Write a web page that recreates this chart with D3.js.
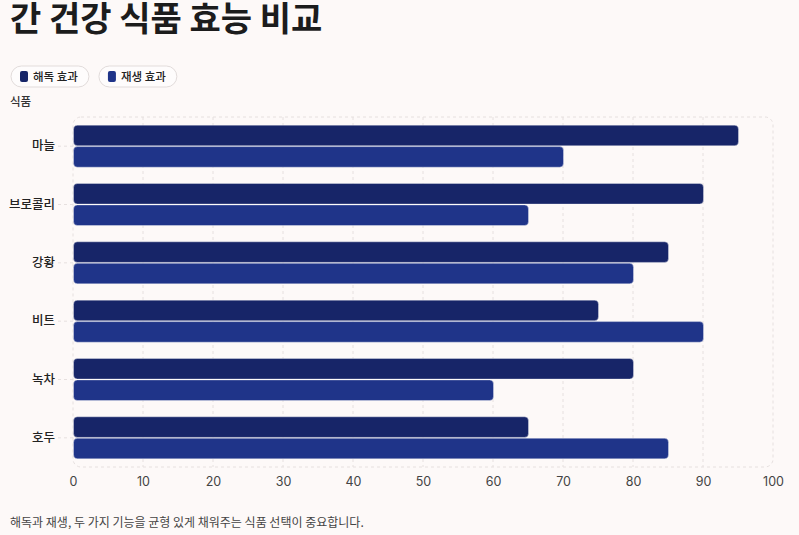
<!DOCTYPE html>
<html>
<head>
<meta charset="utf-8">
<script src="https://cdn.jsdelivr.net/npm/d3@7"></script>
<style>
  html, body { margin: 0; padding: 0; background: #fdf9f8; }
  body { width: 799px; height: 535px; overflow: hidden; font-family: "Noto Sans CJK KR", "Noto Sans", sans-serif; }
</style>
</head>
<body>
<svg id="svg" width="799" height="535"></svg>
<script>
var foods = ['마늘', '브로콜리', '강황', '비트', '녹차', '호두'];
var seriesNames = ['해독 효과', '재생 효과'];
var detoxValues = [95, 90, 85, 75, 80, 65];
var regenValues = [70, 65, 80, 90, 60, 85];
var xTicks = [0, 10, 20, 30, 40, 50, 60, 70, 80, 90, 100];
var colors = ['#172568', '#1f3489'];

var svg = d3.select('#svg');
var margin = { left: 73, right: 26, top: 117, bottom: 68 };
var width = 799 - margin.left - margin.right;
var height = 535 - margin.top - margin.bottom;

// title
svg.append('text')
    .attr('x', 10)
    .attr('y', 31)
    .attr('font-size', 34)
    .attr('font-weight', 700)
    .attr('fill', '#1c1c1c')
    .text('간 건강 식품 효능 비교');

// legend pills
var legend = svg.append('g').attr('transform', 'translate(11,66)');
var lx = 0;
seriesNames.forEach(function(name, i) {
    var g = legend.append('g').attr('transform', 'translate(' + lx + ',0)');
    var t = g.append('text')
        .attr('x', 22)
        .attr('y', 14.5)
        .attr('font-size', 11.5)
        .attr('font-weight', 500)
        .attr('fill', '#222')
        .text(name);
    var w = t.node().getComputedTextLength() + 33;
    g.insert('rect', 'text')
        .attr('x', 0).attr('y', 0)
        .attr('width', w).attr('height', 21)
        .attr('rx', 10.5)
        .attr('fill', '#fefcfc')
        .attr('stroke', '#e2dcdb');
    g.append('rect')
        .attr('x', 9).attr('y', 5)
        .attr('width', 8).attr('height', 11)
        .attr('rx', 2)
        .attr('fill', colors[i]);
    lx += w + 10;
});

// axis title
svg.append('text')
    .attr('x', 10)
    .attr('y', 106)
    .attr('font-size', 11.5)
    .attr('font-weight', 500)
    .attr('fill', '#333')
    .text('식품');

var chart = svg.append('g')
    .attr('transform', 'translate(' + margin.left + ',' + margin.top + ')');

var x = d3.scaleLinear().domain([0, 100]).range([0, width]);
var y = d3.scaleBand().domain(foods).range([0, height])
    .paddingInner(0.25).paddingOuter(0.125);
var ySub = d3.scaleBand().domain(seriesNames).range([0, y.bandwidth()]).padding(0.04);

// plot frame
chart.append('rect')
    .attr('x', 0).attr('y', 0)
    .attr('width', width).attr('height', height)
    .attr('rx', 8)
    .attr('fill', 'none')
    .attr('stroke', '#e6e0df')
    .attr('stroke-dasharray', '3,3');

// grid
chart.append('g')
    .selectAll('line')
    .data(xTicks.slice(1, -1))
    .enter()
    .append('line')
    .attr('x1', function(d) { return x(d); })
    .attr('x2', function(d) { return x(d); })
    .attr('y1', 0)
    .attr('y2', height)
    .attr('stroke', '#e6e0df')
    .attr('stroke-dasharray', '3,3');

// x axis
var xAxis = chart.append('g')
    .attr('transform', 'translate(0,' + height + ')')
    .call(d3.axisBottom(x).tickValues(xTicks).tickSize(0).tickPadding(10));
xAxis.select('.domain').remove();
xAxis.selectAll('text')
    .attr('font-size', 12.5)
    .attr('font-family', 'Inter, "Noto Sans", sans-serif')
    .attr('fill', '#444');

// y axis
var yAxis = chart.append('g')
    .call(d3.axisLeft(y).tickSize(15).tickPadding(3));
yAxis.select('.domain').remove();
yAxis.selectAll('.tick line')
    .attr('stroke', '#e6e0df')
    .attr('stroke-dasharray', '3,3');
yAxis.selectAll('text')
    .attr('font-size', 12.5)
    .attr('font-weight', 500)
    .attr('font-family', '"Noto Sans CJK KR", sans-serif')
    .attr('fill', '#222');

// bars
var rows = foods.map(function(f, i) {
    return { food: f, values: [detoxValues[i], regenValues[i]] };
});
var groups = chart.append('g')
    .selectAll('g')
    .data(rows)
    .enter()
    .append('g')
    .attr('transform', function(d) { return 'translate(0,' + y(d.food) + ')'; });

groups.selectAll('rect')
    .data(function(d) {
        return d.values.map(function(v, i) { return { key: seriesNames[i], value: v, idx: i }; });
    })
    .enter()
    .append('rect')
    .attr('x', x(0) + 0.5)
    .attr('y', function(d) { return ySub(d.key); })
    .attr('width', function(d) { return x(d.value) - x(0); })
    .attr('height', ySub.bandwidth())
    .attr('rx', 4)
    .attr('fill', function(d) { return colors[d.idx]; })
    .attr('stroke', 'rgba(255,255,255,0.35)')
    .attr('stroke-width', 1);

// footer
svg.append('text')
    .attr('x', 10)
    .attr('y', 527)
    .attr('font-size', 12)
    .attr('fill', '#444')
    .text('해독과 재생, 두 가지 기능을 균형 있게 채워주는 식품 선택이 중요합니다.');
</script>
</body>
</html>
